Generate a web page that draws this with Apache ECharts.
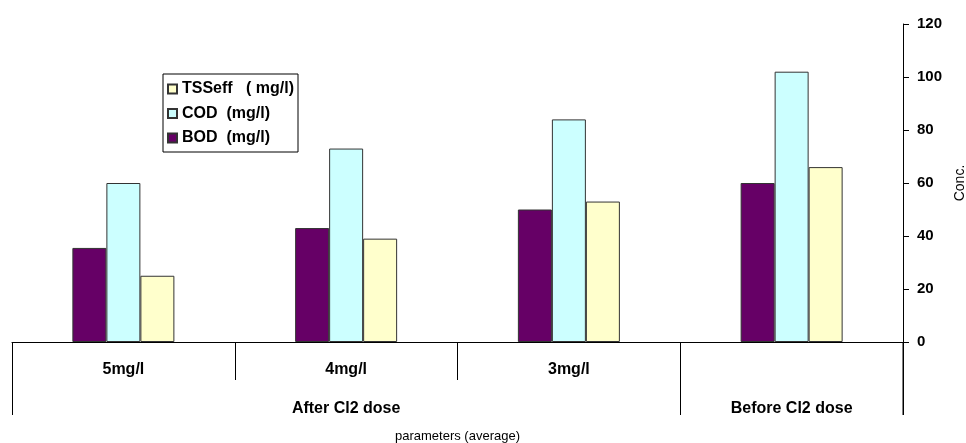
<!DOCTYPE html>
<html><head><meta charset="utf-8">
<script src="https://cdn.jsdelivr.net/npm/echarts@6/dist/echarts.min.js"></script>
<style>html,body{margin:0;padding:0;background:#fff}#c{width:966px;height:443px}</style>
</head><body><div id="c"></div>
<script>
const categories = ['5mg/l', '4mg/l', '3mg/l', ''];
const groupLabels = ['', 'After Cl2 dose', '', 'Before Cl2 dose'];
const bod = [35.5, 43, 50, 60];
const cod = [60, 73, 84, 102];
const tss = [25, 39, 53, 66];
const yTicks = [0, 20, 40, 60, 80, 100, 120];

const chart = echarts.init(document.getElementById('c'));
const font = 'Liberation Sans, Arial, sans-serif';
const border = {borderColor: '#333', borderWidth: 1};
chart.setOption({
  animation: false,
  grid: {left: 12, right: 63, top: 24, bottom: 101, outerBoundsMode: 'none', containLabel: false},
  legend: {
    orient: 'vertical', left: 163, top: 74,
    data: ['TSSeff   ( mg/l)', 'COD  (mg/l)', 'BOD  (mg/l)'],
    itemWidth: 9, itemHeight: 9, itemGap: 8.5,
    borderColor: '#000', borderWidth: 1, padding: [7, 4, 6, 4],
    textStyle: {fontFamily: font, fontWeight: 'bold', fontSize: 16, color: '#000'},
    icon: 'rect'
  },
  xAxis: [{
    type: 'category', data: categories, position: 'bottom',
    axisLine: {show: true, lineStyle: {color: '#000', width: 1}},
    axisTick: {show: true, length: 38, interval: 0, lineStyle: {color: '#000'}},
    axisLabel: {margin: 20, interval: 0, fontFamily: font, fontWeight: 'bold', fontSize: 16, color: '#000'}
  }, {
    type: 'category', data: groupLabels, position: 'bottom',
    axisLine: {show: false},
    axisTick: {show: true, length: 73, interval: function (i) { return i === 0 || i === 3 || i === 4; }, lineStyle: {color: '#000'}},
    axisLabel: {margin: 59, interval: 0, fontFamily: font, fontWeight: 'bold', fontSize: 16, color: '#000'},
    name: 'parameters (average)', nameLocation: 'middle', nameGap: 88,
    nameTextStyle: {fontFamily: font, fontSize: 13, color: '#000'}
  },],
  yAxis: {
    type: 'value', position: 'right', min: 0, max: 120, interval: 20,
    axisLine: {show: true, lineStyle: {color: '#000'}},
    axisTick: {show: true, length: 6, lineStyle: {color: '#000'}},
    splitLine: {show: false},
    axisLabel: {margin: 14, fontFamily: font, fontWeight: 'bold', fontSize: 15, color: '#000'},
    name: 'Conc.', nameLocation: 'middle', nameGap: 47, nameRotate: 90,
    nameTextStyle: {fontFamily: font, fontSize: 14, color: '#000'}
  },
  series: [
    {name: 'BOD  (mg/l)', type: 'bar', data: bod, barWidth: 34, barGap: '0%', itemStyle: Object.assign({color: '#660066'}, border)},
    {name: 'COD  (mg/l)', type: 'bar', data: cod, barWidth: 34, barGap: '0%', itemStyle: Object.assign({color: '#CCFFFF'}, border)},
    {name: 'TSSeff   ( mg/l)', type: 'bar', data: tss, barWidth: 34, barGap: '0%', itemStyle: Object.assign({color: '#FFFFCC'}, border)}
  ]
});
// extend the value axis line below zero, like the reference frame
const p0 = chart.convertToPixel({yAxisIndex: 0}, 0);
const xr = chart.getWidth() - 63;
chart.setOption({graphic: [{type: 'line', shape: {x1: xr, y1: p0, x2: xr, y2: p0 + 73}, style: {stroke: '#000', lineWidth: 1}}]});
</script></body></html>
